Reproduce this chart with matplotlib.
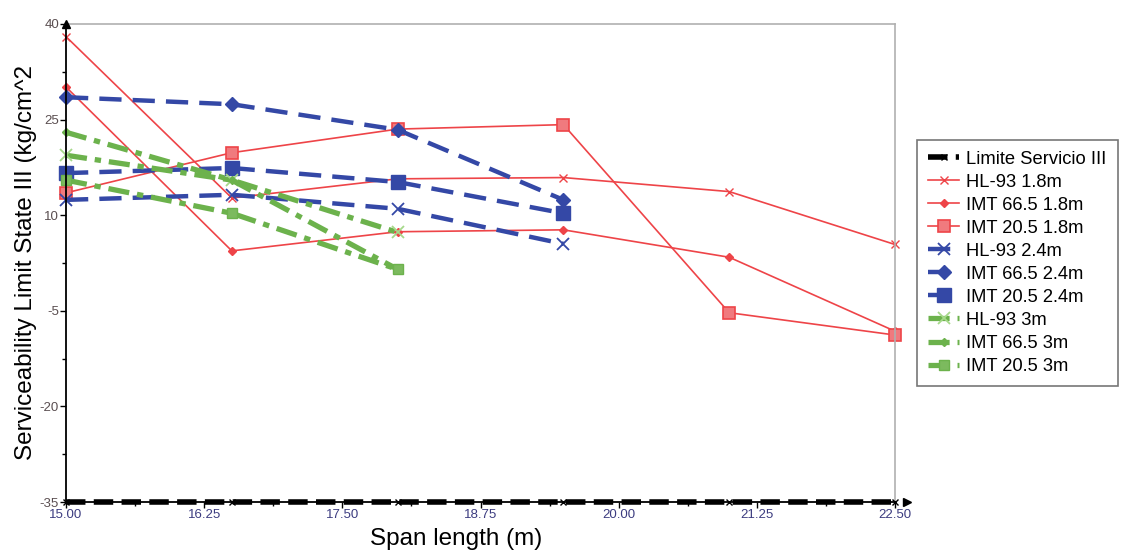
import matplotlib
matplotlib.use("Agg")
import matplotlib.pyplot as plt
from matplotlib.ticker import MultipleLocator, FormatStrFormatter

plt.rcParams['font.family'] = ['Liberation Sans', 'DejaVu Sans']
plt.rcParams['axes.unicode_minus'] = False

# span lengths (m)
span = [15.0, 16.5, 18.0, 19.5, 21.0, 22.5]
span_short = [15.0, 16.5, 18.0, 19.5]
span_3m = [15.0, 16.5, 18.0]

limite = [-35, -35, -35, -35, -35, -35]

hl93_18 = [38.0, 12.7, 15.7, 15.9, 13.7, 5.4]
imt665_18 = [30.1, 4.4, 7.4, 7.7, 3.4, -8.2]
imt205_18 = [13.5, 19.8, 23.5, 24.2, -5.3, -8.8]

hl93_24 = [12.4, 13.2, 11.0, 5.5]
imt665_24 = [28.5, 27.4, 23.4, 12.4]
imt205_24 = [16.6, 17.4, 15.2, 10.3]

hl93_3 = [19.4, 15.5, 7.3]
imt665_3 = [23.0, 15.5, 1.5]
imt205_3 = [15.5, 10.3, 1.5]

y_ticks = [-35, -20, -5, 10, 25, 40]
y_minor = [-27.5, -12.5, 2.5, 17.5, 32.5]

RED = '#ee4448'
BLUE = '#3448a6'
GREEN = '#6cb24c'
LGREEN = '#a6d98a'

fig = plt.figure(figsize=(11.21, 5.56), dpi=100)
ax = fig.add_axes([0.0589, 0.097, 0.7395, 0.860])

ax.plot(span, limite, color='black', lw=4, ls=(0, (3.5, 1.5)), marker='x',
        ms=4, mew=1.0, clip_on=False, zorder=5, label='Limite Servicio III')

ax.plot(span, hl93_18, color=RED, lw=1.2, marker='x', ms=6, mew=1.0,
        clip_on=False, label='HL-93 1.8m')
ax.plot(span, imt665_18, color=RED, lw=1.2, marker='D', ms=4,
        clip_on=False, label='IMT 66.5 1.8m')
ax.plot(span, imt205_18, color=RED, lw=1.2, marker='s', ms=9, mfc='#f07a7e',
        mec=RED, mew=1.2, clip_on=False, label='IMT 20.5 1.8m')

blue_dash = (0, (5, 2.5))
ax.plot(span_short, hl93_24, color=BLUE, lw=3.2, ls=blue_dash, marker='x',
        ms=9, mew=1.3, clip_on=False, label='HL-93 2.4m')
ax.plot(span_short, imt665_24, color=BLUE, lw=3.2, ls=blue_dash, marker='D',
        ms=7, clip_on=False, label='IMT 66.5 2.4m')
ax.plot(span_short, imt205_24, color=BLUE, lw=3.2, ls=blue_dash, marker='s',
        ms=10, clip_on=False, label='IMT 20.5 2.4m')

green_dd = (0, (4, 1.5, 1.2, 1.5))
ax.plot(span_3m, hl93_3, color=GREEN, lw=3.8, ls=green_dd, marker='x', ms=9,
        mec=LGREEN, mew=1.3, clip_on=False, label='HL-93 3m')
ax.plot(span_3m, imt665_3, color=GREEN, lw=3.8, ls=green_dd, marker='D',
        ms=4, clip_on=False, label='IMT 66.5 3m')
ax.plot(span_3m, imt205_3, color=GREEN, lw=3.8, ls=green_dd, marker='s',
        ms=7, mfc='#7cba5e', clip_on=False, label='IMT 20.5 3m')

ax.set_xlim(15, 22.5)
ax.set_ylim(-35, 40)
ax.xaxis.set_major_locator(MultipleLocator(1.25))
ax.xaxis.set_minor_locator(MultipleLocator(0.625))
ax.set_yticks(y_ticks)
ax.set_yticks(y_minor, minor=True)
ax.xaxis.set_major_formatter(FormatStrFormatter('%.2f'))

ax.tick_params(axis='both', which='major', labelsize=9.5,
               length=4, width=1, direction='out', pad=1)
ax.tick_params(axis='x', labelcolor='#3c3c80')
ax.tick_params(axis='y', labelcolor='#5a4e50')
ax.tick_params(axis='both', which='minor', length=3, width=1, direction='out')

for s in ['top', 'right']:
    ax.spines[s].set_color('#b0b0b0')
    ax.spines[s].set_linewidth(1.2)
for s in ['left', 'bottom']:
    ax.spines[s].set_color('black')
    ax.spines[s].set_linewidth(1.3)

# arrow heads on the axes
ax.plot(0, 1.0, marker='^', color='black', ms=6, transform=ax.transAxes,
        clip_on=False, zorder=6)
ax.plot(1.015, 0, marker='>', color='black', ms=6, transform=ax.transAxes,
        clip_on=False, zorder=6)

ax.set_xlabel('Span length (m)', fontsize=17.5)
ax.xaxis.set_label_coords(0.47, -0.054)
ax.set_ylabel('Serviceability Limit State III (kg/cm^2', fontsize=17.5)
ax.yaxis.set_label_coords(-0.035, 0.5)

leg = fig.legend(loc='upper left', bbox_to_anchor=(0.818, 0.749),
                 fontsize=13.2, frameon=True, fancybox=False, handlelength=1.7,
                 labelspacing=0.33, borderpad=0.6, handletextpad=0.4,
                 borderaxespad=0)
leg.get_frame().set_edgecolor('#555555')
leg.get_frame().set_linewidth(1.2)

fig.savefig('out.png', dpi=100)
